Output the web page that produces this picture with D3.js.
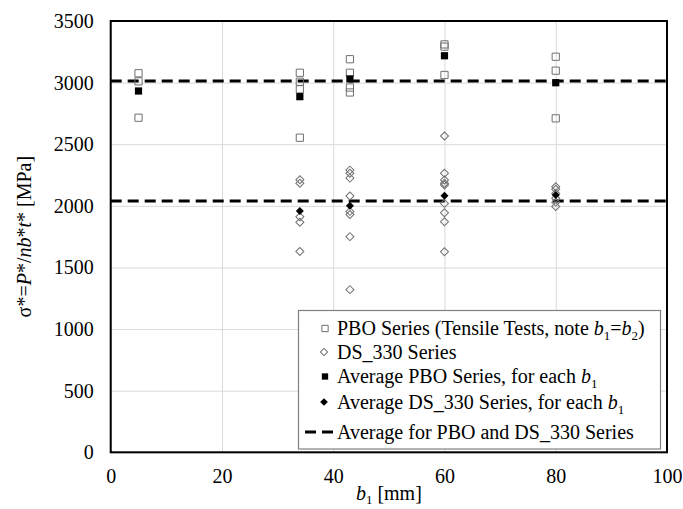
<!DOCTYPE html>
<html><head><meta charset="utf-8">
<script src="https://cdn.jsdelivr.net/npm/d3@7"></script>
<style>html,body{margin:0;padding:0;background:#fff;} svg{display:block;} svg text{font-family:"Liberation Serif","Times New Roman","DejaVu Serif",serif !important;}</style>
</head><body>
<svg id="c" width="683" height="509"></svg>
<script>
// ---- data ----
const pboX = [5,5,5, 34,34,34,34, 43,43,43,43, 60,60,60, 80,80,80];
const pboY = [3076,3010,2715, 3080,3007,2946,2553, 3190,3080,2960,2920, 3310,3292,3062, 3210,3097,2710];
const dsX = [34,34,34,34,34, 43,43,43,43,43,43,43,43, 60,60,60,60,60,60,60,60,60, 80,80,80,80,80,80];
const dsY = [2212,2183,1912,1867,1630, 2290,2265,2225,2080,1955,1930,1750,1320, 2567,2264,2210,2183,2169,2020,1944,1871,1628, 2155,2134,2100,2062,2030,1995];
const pboAvgX = [5,34,43,60,80];
const pboAvgY = [2932,2886,3030,3218,2999];
const dsAvgX = [34,43,60,80];
const dsAvgY = [1958,2000,2082,2088];
const overallAvg = [3013,2040];
const xTicks = [0,20,40,60,80,100];
const yTicks = [0,500,1000,1500,2000,2500,3000,3500];

const svg = d3.select("#c");
const L=110.7, R=667, T=21, B=452.3;
const x = d3.scaleLinear().domain([0,100]).range([L,R]);
const y = d3.scaleLinear().domain([0,3500]).range([B,T]);

// gridlines
const gx = svg.append("g").attr("transform",`translate(0,${B})`)
  .call(d3.axisBottom(x).tickValues(xTicks).tickSize(-(B-T)).tickFormat(""));
gx.selectAll("line").attr("stroke","#d9d9d9").attr("stroke-width",1);
gx.select(".domain").remove();
const gy = svg.append("g").attr("transform",`translate(${L},0)`)
  .call(d3.axisLeft(y).tickValues(yTicks).tickSize(-(R-L)).tickFormat(""));
gy.selectAll("line").attr("stroke","#d9d9d9").attr("stroke-width",1);
gy.select(".domain").remove();

// tick labels
const ax = svg.append("g").attr("transform",`translate(0,${B})`)
  .call(d3.axisBottom(x).tickValues(xTicks).tickSize(0).tickPadding(17).tickFormat(d3.format("d")));
ax.select(".domain").remove();
ax.selectAll("text").attr("font-size",20).attr("fill","#000");
const ay = svg.append("g").attr("transform",`translate(${L},0)`)
  .call(d3.axisLeft(y).tickValues(yTicks).tickSize(0).tickPadding(17).tickFormat(d3.format("d")));
ay.select(".domain").remove();
ay.selectAll("text").attr("font-size",20).attr("fill","#000");

// dashed average lines
svg.append("g").selectAll("line").data(overallAvg).join("line")
  .attr("x1",x(0)).attr("x2",x(100)).attr("y1",d=>y(d)).attr("y2",d=>y(d))
  .attr("stroke","#000").attr("stroke-width",3).attr("stroke-dasharray","11,6");

// markers
const sq = d3.symbol().type(d3.symbolSquare).size(52);
const dia = d3.symbol().type(d3.symbolSquare).size(32);
svg.append("g").selectAll("path").data(pboX.map((v,i)=>[v,pboY[i]])).join("path")
  .attr("d",sq).attr("transform",d=>`translate(${x(d[0])},${y(d[1])})`)
  .attr("fill","none").attr("stroke","#707070").attr("stroke-width",1);
svg.append("g").selectAll("path").data(dsX.map((v,i)=>[v,dsY[i]])).join("path")
  .attr("d",dia).attr("transform",d=>`translate(${x(d[0])},${y(d[1])}) rotate(45)`)
  .attr("fill","none").attr("stroke","#707070").attr("stroke-width",1);
svg.append("g").selectAll("path").data(pboAvgX.map((v,i)=>[v,pboAvgY[i]])).join("path")
  .attr("d",sq).attr("transform",d=>`translate(${x(d[0])},${y(d[1])})`).attr("fill","#000");
svg.append("g").selectAll("path").data(dsAvgX.map((v,i)=>[v,dsAvgY[i]])).join("path")
  .attr("d",dia).attr("transform",d=>`translate(${x(d[0])},${y(d[1])}) rotate(45)`).attr("fill","#000");

// frame
svg.append("rect").attr("x",L).attr("y",T).attr("width",R-L).attr("height",B-T)
  .attr("fill","none").attr("stroke","#000").attr("stroke-width",2);

// legend
const lg = svg.append("g");
lg.append("rect").attr("x",298.5).attr("y",310.5).attr("width",362).attr("height",138.5)
  .attr("fill","#fff").attr("stroke","#808080").attr("stroke-width",1.2);
const rowsY = [328.5,352,376.5,402,432];
const legendItems = [
  {m:"sq", parts:[["PBO Series (Tensile Tests, note "],["b","i"],["1","s"],["="],["b","i"],["2","s"],[")"]]},
  {m:"dia", parts:[["DS_330 Series"]]},
  {m:"sqf", parts:[["Average PBO Series, for each "],["b","i"],["1","s"]]},
  {m:"diaf", parts:[["Average DS_330 Series, for each "],["b","i"],["1","s"]]},
  {m:"dash", parts:[["Average for PBO and DS_330 Series"]]}
];
legendItems.forEach((it,i)=>{
  const yy = rowsY[i];
  const g = lg.append("g");
  if(it.m==="sq") g.append("path").attr("d",d3.symbol().type(d3.symbolSquare).size(40)()).attr("transform",`translate(325,${yy})`).attr("fill","none").attr("stroke","#707070");
  if(it.m==="dia") g.append("path").attr("d",d3.symbol().type(d3.symbolSquare).size(26)()).attr("transform",`translate(324,${yy}) rotate(45)`).attr("fill","none").attr("stroke","#707070");
  if(it.m==="sqf") g.append("path").attr("d",d3.symbol().type(d3.symbolSquare).size(40)()).attr("transform",`translate(325,${yy})`).attr("fill","#000");
  if(it.m==="diaf") g.append("path").attr("d",d3.symbol().type(d3.symbolSquare).size(30)()).attr("transform",`translate(324,${yy}) rotate(45)`).attr("fill","#000");
  if(it.m==="dash") g.append("line").attr("x1",305).attr("x2",333).attr("y1",yy).attr("y2",yy).attr("stroke","#000").attr("stroke-width",3).attr("stroke-dasharray","11,6");
  const t = g.append("text").attr("x",337).attr("y",yy+6.5).attr("font-size",20).attr("fill","#000");
  let prevSub = false;
  it.parts.forEach(p=>{
    const ts = t.append("tspan").text(p[0]);
    if(p[1]==="i") ts.attr("font-style","italic");
    if(p[1]==="s") { ts.attr("font-size",13).attr("dy",5); prevSub = true; }
    else { if(prevSub) ts.attr("dy",-5); prevSub = false; }
  });
});

// axis titles
const xt = svg.append("text").attr("x",x(50)).attr("y",500).attr("text-anchor","middle").attr("font-size",20).attr("fill","#000");
xt.append("tspan").attr("font-style","italic").text("b");
xt.append("tspan").attr("font-size",13).attr("dy",4).text("1");
xt.append("tspan").attr("dy",-4).text(" [mm]");

const yt = svg.append("text").attr("transform",`translate(31,${(T+B)/2}) rotate(-90)`).attr("text-anchor","middle").attr("font-size",20).attr("fill","#000");
[["σ*="],["P","i"],["*/"],["nb","i"],["*"],["t","i"],["* [MPa]"]].forEach(p=>{
  const ts = yt.append("tspan").text(p[0]); if(p[1]) ts.attr("font-style","italic");
});
</script>
</body></html>
